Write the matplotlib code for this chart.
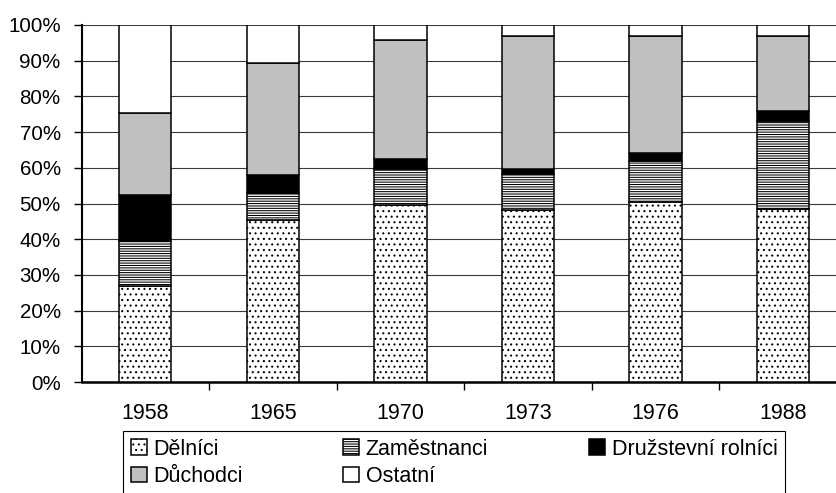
import matplotlib
matplotlib.use("Agg")
import matplotlib.pyplot as plt
import numpy as np

years = ["1958", "1965", "1970", "1973", "1976", "1988"]
delnici = [27.0, 45.4, 49.6, 48.2, 50.5, 48.4]
zamestnanci = [12.5, 7.5, 10.1, 10.1, 11.4, 24.7]
druzstevni = [12.9, 5.1, 2.8, 1.4, 2.2, 2.8]
duchodci = [22.9, 31.3, 33.3, 37.3, 32.9, 21.1]
ostatni = [24.7, 10.7, 4.2, 3.0, 3.0, 3.0]

series_names = ["Dělníci", "Zaměstnanci", "Družstevní rolníci", "Důchodci", "Ostatní"]
series_vals = [delnici, zamestnanci, druzstevni, duchodci, ostatni]
styles = [
    dict(facecolor="white", hatch="..."),
    dict(facecolor="white", hatch="-------"),
    dict(facecolor="black", hatch=None),
    dict(facecolor="#C0C0C0", hatch=None),
    dict(facecolor="white", hatch=None),
]

plt.rcParams["font.family"] = ["Liberation Sans", "DejaVu Sans"]
plt.rcParams["hatch.linewidth"] = 0.75
plt.rcParams["hatch.color"] = "black"

FS = 15.5
W, H = 836, 493
fig = plt.figure(figsize=(W / 100, H / 100), dpi=100)
ax = fig.add_axes([81.5 / W, 111 / H, (847 - 81.5) / W, 357 / H])

x = np.arange(len(years))
totals = np.sum(series_vals, axis=0)
bottom = np.zeros(len(years))
handles = []
for name, vals, st in zip(series_names, series_vals, styles):
    pct = np.array(vals) / totals * 100
    b = ax.bar(x, pct, width=0.41, bottom=bottom, edgecolor="black",
               linewidth=1.1, label=name, zorder=3, **st)
    handles.append(b)
    bottom += pct

ax.set_xlim(-0.5, len(years) - 0.5)
ax.set_ylim(0, 100)
ax.set_yticks(np.arange(0, 101, 10))
ax.set_yticklabels([f"{v}%" for v in range(0, 101, 10)])
ax.yaxis.grid(True, color="#3a3a3a", linewidth=0.8, zorder=0)
ax.set_axisbelow(True)

ax.set_xticks(x)
ax.set_xticklabels(years)
ax.set_xticks(np.arange(0.5, len(years) - 0.5, 1), minor=True)
ax.tick_params(axis="x", which="major", length=0, pad=15, labelsize=FS)
ax.tick_params(axis="x", which="minor", length=6, width=1, direction="out")
ax.tick_params(axis="y", length=6, width=1, direction="out", pad=9, labelsize=14.8)

for s in ["top", "right"]:
    ax.spines[s].set_visible(False)
ax.spines["left"].set_linewidth(1.5)
ax.spines["bottom"].set_linewidth(1.8)

order = [0, 3, 1, 4, 2]
leg = fig.legend([handles[i] for i in order], [series_names[i] for i in order],
                 ncol=3, loc="upper left",
                 bbox_to_anchor=(123 / W, 0, (785 - 123) / W, (H - 431) / H),
                 mode="expand", borderaxespad=0, fancybox=False,
                 edgecolor="black", framealpha=1, fontsize=FS,
                 handlelength=0.75, handleheight=0.75, handletextpad=0.3,
                 labelspacing=0.3, borderpad=0.35)
leg.get_frame().set_linewidth(0.8)

fig.savefig("out.png", dpi=100)
